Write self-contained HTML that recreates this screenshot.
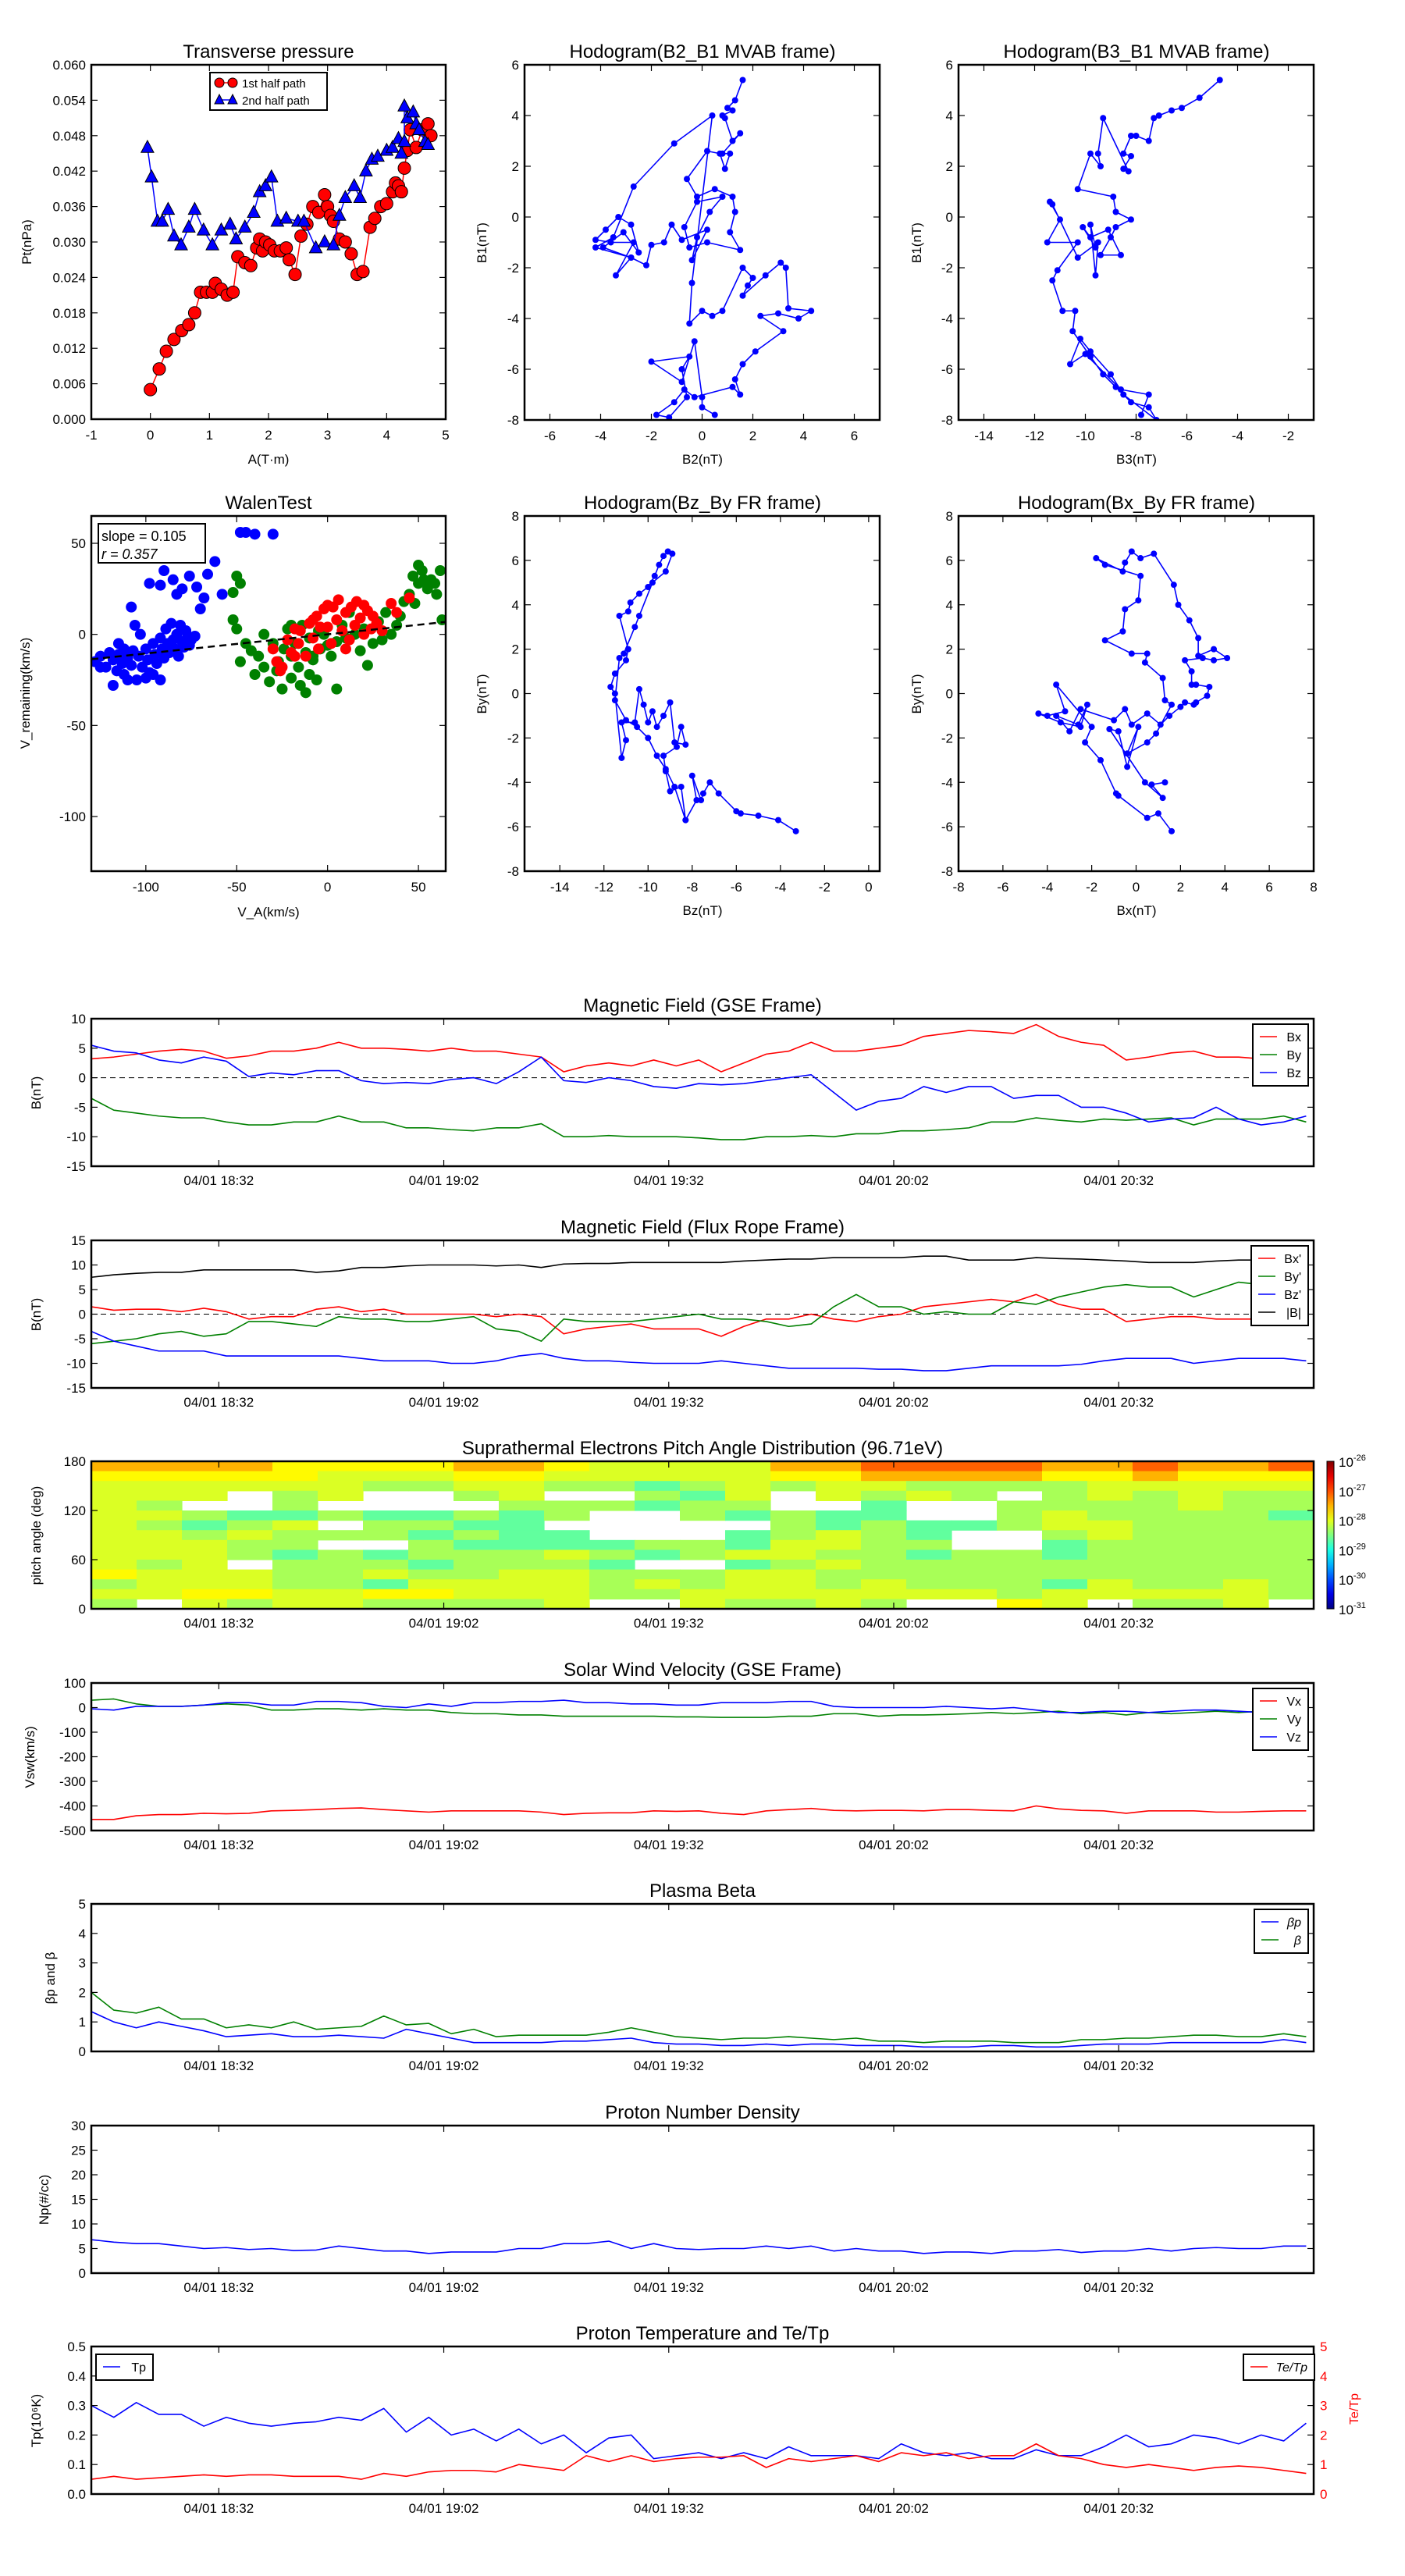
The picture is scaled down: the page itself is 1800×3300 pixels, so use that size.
<!DOCTYPE html>
<html><head><meta charset="utf-8">
<style>
html,body{margin:0;padding:0;background:#fff;}
svg{display:block;font-family:"Liberation Sans",sans-serif;}
</style></head>
<body>
<svg id="fig" width="1800" height="3300" viewBox="0 0 1800 3300" xmlns="http://www.w3.org/2000/svg">
<rect x="0" y="0" width="1800" height="3300" fill="#fff"/>
<defs id="defs"></defs>
</svg>
<script>
// ---------------- DATA ----------------
const tpA1=[0.0,0.15,0.27,0.4,0.53,0.65,0.75,0.85,0.95,1.05,1.1,1.2,1.3,1.4,1.48,1.6,1.7,1.8,1.85,1.9,1.95,2.02,2.1,2.2,2.3,2.35,2.45,2.55,2.65,2.75,2.85,2.95,3.0,3.05,3.1,3.2,3.3,3.4,3.5,3.6,3.72,3.8,3.9,4.0,4.1,4.15,4.2,4.25,4.3,4.35,4.4,4.5,4.6,4.7,4.75];
const tpP1=[0.005,0.0085,0.0115,0.0135,0.015,0.016,0.018,0.0215,0.0215,0.0215,0.023,0.022,0.021,0.0215,0.0275,0.0265,0.026,0.029,0.0305,0.0285,0.030,0.0295,0.0285,0.0285,0.029,0.027,0.0245,0.031,0.033,0.036,0.035,0.038,0.036,0.0345,0.0335,0.0305,0.030,0.028,0.0245,0.025,0.0325,0.034,0.036,0.0365,0.0385,0.040,0.0395,0.0385,0.0425,0.0455,0.049,0.046,0.049,0.050,0.048];
const tpA2=[-0.05,0.02,0.12,0.2,0.3,0.4,0.52,0.65,0.75,0.9,1.05,1.2,1.35,1.45,1.6,1.75,1.85,1.95,2.05,2.15,2.3,2.5,2.6,2.8,2.95,3.1,3.2,3.3,3.45,3.55,3.65,3.75,3.85,4.0,4.1,4.2,4.25,4.3,4.3,4.35,4.45,4.5,4.55,4.65,4.7];
const tpP2=[0.046,0.041,0.0335,0.0335,0.0355,0.031,0.0295,0.0325,0.0355,0.032,0.0295,0.032,0.033,0.0305,0.0325,0.035,0.0385,0.0395,0.041,0.0335,0.034,0.0335,0.0335,0.029,0.030,0.0295,0.0345,0.0375,0.0395,0.0375,0.042,0.044,0.0445,0.0455,0.046,0.0475,0.045,0.047,0.053,0.051,0.052,0.050,0.049,0.047,0.0465];

const h1B2=[1.6,1.3,1.0,1.2,0.8,0.9,1.2,1.5,0.8,1.1,0.9,0.7,0.2,-0.6,-0.2,0.5,1.2,1.3,1.1,1.5,0.2,-0.5,-0.7,-0.2,0.8,0.3,-0.2,-0.4,0.2,-0.8,-1.2,-1.5,-2.0,-2.2,-2.8,-3.4,-2.7,-3.6,-4.2,-3.8,-3.3,-2.8,-2.5,-3.1,-3.9,-2.8,-4.2,-3.5,-2.7,-1.1,0.4,-0.4,-0.5,0.0,0.4,0.8,1.6,2.0,1.8,1.6,2.5,3.1,3.3,3.4,4.3,3.8,3.0,2.3,3.2,2.1,1.6,1.3,1.5,1.2,-0.3,-0.7,-1.1,-1.8,-1.3,-0.6,-0.8,-0.5,-2.0,-0.8,-0.3,0.0,0.0,0.5];
const h1B1=[5.4,4.6,4.3,4.2,4.0,3.9,3.0,3.3,2.5,2.5,1.9,2.5,2.6,1.5,0.8,1.1,0.8,0.2,-0.6,-1.3,-1.0,-1.2,-0.4,0.6,0.8,0.2,-0.8,-1.7,-0.5,-0.9,-0.3,-1.0,-1.1,-1.9,-1.6,-2.3,-1.0,-1.0,-0.9,-0.5,0.0,-0.3,-1.4,-0.6,-1.2,-1.6,-1.2,-0.8,1.2,2.9,4.0,-2.6,-4.2,-3.7,-3.9,-3.7,-2.0,-2.4,-2.7,-3.1,-2.3,-1.8,-2.0,-3.6,-3.7,-4.0,-3.8,-3.9,-4.5,-5.3,-5.8,-6.4,-7.0,-6.7,-7.1,-6.8,-7.3,-7.8,-7.9,-7.1,-6.0,-5.5,-5.7,-6.5,-4.9,-7.1,-7.5,-7.8];

const h2B3=[-4.7,-5.5,-6.2,-6.6,-7.1,-7.3,-7.5,-8.0,-8.2,-8.5,-8.2,-8.5,-8.3,-9.3,-9.5,-9.4,-9.8,-10.3,-8.9,-8.8,-8.2,-8.8,-9.0,-9.4,-8.6,-9.1,-9.8,-10.1,-9.6,-9.8,-9.6,-9.5,-10.3,-11.3,-11.4,-11.0,-11.5,-10.3,-11.1,-11.3,-10.9,-10.4,-10.5,-9.8,-9.3,-8.8,-8.2,-7.5,-7.2,-8.5,-9.0,-9.8,-10.2,-10.6,-10.0,-8.6,-7.5,-7.8];
const h2B1=[5.4,4.7,4.3,4.2,4.0,3.9,3.0,3.2,3.2,2.5,2.4,1.9,1.8,3.9,2.5,2.0,2.5,1.1,0.8,0.2,-0.1,-0.4,-0.8,-1.5,-1.5,-0.5,-0.8,-0.4,-1.2,-0.3,-2.3,-1.0,-1.6,0.5,0.6,-0.1,-1.0,-1.0,-2.1,-2.5,-3.7,-3.7,-4.5,-5.5,-6.2,-6.7,-7.3,-7.5,-8.0,-7.0,-6.2,-5.3,-4.8,-5.8,-5.4,-6.8,-7.0,-7.8];

const h3Bz=[-3.3,-4.1,-5.0,-5.8,-6.0,-6.8,-7.2,-7.5,-7.6,-8.0,-7.8,-8.3,-8.5,-9.0,-9.2,-9.3,-8.7,-8.5,-8.3,-8.8,-9.0,-9.3,-9.6,-9.8,-10.0,-10.2,-10.4,-10.6,-11.2,-11.0,-11.2,-11.5,-11.7,-11.5,-11.0,-10.9,-11.3,-10.9,-10.8,-10.4,-10.0,-9.7,-9.5,-9.3,-9.1,-8.9,-9.2,-9.8,-10.4,-10.6,-11.1,-11.3,-11.5,-11.0,-10.5,-10.0,-9.6,-9.2,-8.8,-8.3];
const h3By=[-6.2,-5.7,-5.5,-5.4,-5.3,-4.5,-4.0,-4.5,-4.8,-3.7,-4.8,-5.7,-4.2,-4.4,-3.5,-2.8,-2.4,-1.5,-2.3,-2.2,-0.4,-1.0,-1.5,-0.8,-1.3,-0.5,0.2,-1.3,-1.3,-2.1,-2.9,0.0,0.3,0.9,1.5,2.0,3.5,3.7,4.1,4.5,4.8,5.3,5.8,6.2,6.4,6.3,5.5,5.0,3.5,3.0,1.8,1.6,-0.3,-1.2,-1.5,-2.0,-2.8,-3.4,-4.2,-5.7];

const h4Bx=[1.6,1.0,0.5,-0.8,-0.9,-1.6,-2.3,-2.0,-3.6,-3.2,-4.0,-4.4,-3.4,-2.5,-2.2,-2.6,-3.6,-3.0,-2.5,-1.0,-0.5,-0.2,0.5,1.1,1.5,2.0,2.2,2.6,2.7,3.2,3.3,2.7,2.5,2.5,2.2,3.0,3.5,4.1,3.5,2.8,2.8,2.4,1.9,1.7,0.8,0.2,-0.2,-0.5,-0.6,-1.8,-1.4,0.2,0.1,-0.5,-0.6,-1.4,-0.2,0.5,0.4,1.2,1.3,1.6,0.9,0.5,-0.4,0.1,-0.4,-0.8,-1.2,0.4,1.2,0.7,1.3];
const h4By=[-6.2,-5.4,-5.6,-4.6,-4.5,-3.0,-2.2,-1.5,0.4,-0.8,-1.0,-0.9,-1.3,-1.5,-0.5,-1.4,-1.0,-1.7,-0.7,-1.2,-0.7,-1.4,-0.9,-1.4,-1.0,-0.6,-0.4,-0.5,-0.4,-0.1,0.3,0.4,0.4,1.0,1.5,1.6,1.5,1.6,2.0,1.7,2.5,3.3,4.0,4.9,6.3,6.1,6.4,5.9,5.5,6.1,5.8,5.3,4.2,3.8,2.8,2.4,1.8,1.8,1.4,0.7,-0.3,-0.5,-1.8,-2.2,-2.7,-1.5,-3.3,-1.7,-1.6,-4.0,-4.7,-4.1,-4.0];

const walenBlueX=[-128,-125,-122,-120,-118,-116,-115,-113,-112,-110,-108,-107,-105,-104,-102,-100,-99,-98,-96,-95,-94,-92,-91,-90,-89,-88,-87,-86,-85,-84,-83,-82,-81,-80,-79,-78,-77,-76,-75,-73,-100,-110,-118,-92,-96,-106,-108,-103,-98,-92,-90,-85,-83,-80,-76,-72,-68,-66,-62,-58,-48,-45,-40,-30,-70,-115,-125,-112];
const walenBlueY=[-15,-12,-18,-10,-14,-20,-11,-16,-22,-13,-17,-9,-25,-12,-18,-8,-14,-21,-5,-11,-16,-2,-8,-13,3,-5,-10,6,-3,-8,0,-12,5,-4,-7,2,-1,-6,-3,-1,-24,-25,-28,-25,-22,5,15,0,28,27,35,30,22,25,32,26,20,33,40,22,56,56,55,55,14,-5,-18,-8];
const walenGreenX=[-52,-50,-48,-52,-50,-45,-48,-40,-42,-38,-35,-35,-32,-30,-28,-27,-25,-24,-22,-20,-20,-18,-16,-15,-14,-12,-10,-10,-8,-6,-5,-4,-2,0,2,5,8,10,12,15,18,20,22,25,28,30,32,35,38,40,42,45,48,50,52,53,55,57,59,60,62,63,50,47,-12,5,-20,-8];
const walenGreenY=[23,32,28,8,3,-5,-15,-22,-9,-12,0,-18,-26,-5,-20,-15,-30,-8,3,-12,-24,-5,-18,-28,5,-10,-2,-22,-14,-25,2,-8,0,-6,-12,-4,5,-2,12,0,-9,3,-17,-5,7,-3,12,0,5,10,18,22,17,28,35,30,25,30,28,22,35,8,38,32,-32,-30,5,-12];
const walenRedX=[-30,-28,-25,-22,-20,-18,-16,-15,-12,-10,-8,-6,-5,-4,-2,0,2,3,5,6,8,10,12,13,15,16,18,20,22,24,25,27,30,35,38,-18,-8,0,10,20,45,-26];
const walenRedY=[-8,-15,-18,-3,-10,3,-5,2,-12,6,-2,10,-8,4,14,4,-5,15,8,19,2,12,-3,15,5,18,9,0,13,3,10,6,2,17,12,-12,8,16,-8,16,20,-20];
const walenSlope=[0.105];
const walenR=[0.357];

const tStepMin=[3];
const gseBx=[3.2,3.5,4,4.5,4.8,4.5,3.3,3.7,4.5,4.5,5,6,5,5,4.8,4.5,5,4.5,4.5,4,3.5,1,2,2.5,2,3,2,3,1,2.5,4,4.5,6,4.5,4.5,5,5.5,7,7.5,8,7.8,7.5,9,7,6,5.5,3,3.5,4.2,4.5,3.5,3.5,3.2,3.8,4.5];
const gseBy=[-3.5,-5.5,-6,-6.5,-6.8,-6.8,-7.5,-8,-8,-7.5,-7.5,-6.5,-7.5,-7.5,-8.5,-8.5,-8.8,-9,-8.5,-8.5,-7.8,-10,-10,-9.8,-10,-10,-10,-10.2,-10.5,-10.5,-10,-10,-9.8,-10,-9.5,-9.5,-9,-9,-8.8,-8.5,-7.5,-7.5,-6.8,-7.2,-7.5,-7,-7.2,-7,-6.8,-8,-7,-7,-7,-6.5,-7.5];
const gseBz=[5.5,4.5,4.2,3,2.5,3.5,2.8,0.2,0.8,0.5,1.2,1.2,-0.5,-1,-0.8,-1,-0.3,0,-1,1,3.5,-0.5,-0.8,0,-0.5,-1.5,-1.8,-1,-1.2,-1,-0.5,0,0.5,-2.5,-5.5,-4,-3.5,-1.5,-2.5,-1.5,-1.5,-3.5,-3,-3,-5,-5,-6,-7.5,-7,-6.8,-5,-7,-8,-7.5,-6.5];
const frBx=[1.5,0.8,1,1,0.5,1.2,0.5,-1,-0.5,-0.5,1,1.5,0.5,1,0,0,0,0,-0.5,0,-0.5,-4,-3,-2.5,-2,-3,-3,-3,-4.5,-2.5,-1,-1,0,-1,-1.5,-0.5,0,1.5,2,2.5,3,2.5,4,2,1,1,-1.5,-1,-0.5,-0.5,-1,-1,-1,-1,-1];
const frBy=[-6,-5.5,-5,-4,-3.5,-4.5,-4,-1.5,-1.5,-2,-2.5,-0.5,-1,-1,-1.5,-1.5,-1,-0.5,-3,-3.5,-5.5,-1,-1.5,-1.5,-1.5,-1,-0.5,0,-1,-1,-1.5,-2.5,-2,1.5,4,1.5,1.5,0,0.5,0,0,2.5,2,3.5,4.5,5.5,6,5.5,5.5,3.5,5,6.5,6,5,4.5];
const frBz=[-3.5,-5.5,-6.5,-7.5,-7.5,-7.5,-8.5,-8.5,-8.5,-8.5,-8.5,-8.5,-9,-9.5,-9.5,-9.5,-10,-10,-9.5,-8.5,-8,-9,-9.5,-9.5,-9.8,-10,-10,-10,-9.5,-10,-10.5,-11,-11,-11,-11,-11.2,-11.2,-11.5,-11.5,-11,-10.5,-10.5,-10.5,-10.5,-10.2,-9.5,-9,-9,-9,-10,-9.5,-9,-9,-9,-9.5];
const frBt=[7.5,8,8.3,8.5,8.5,9,9,9,9,9,8.5,8.8,9.5,9.5,9.8,10,10,10,9.8,10,9.5,10.2,10.3,10.3,10.5,10.5,10.5,10.5,10.5,10.8,11,11.2,11.2,11.5,11.5,11.5,11.5,11.8,11.8,11,11,11,11.5,11.3,11.2,11,10.8,10.5,10.5,10.5,10.8,11,11,11,11];
const vswVx=[-455,-455,-440,-435,-435,-430,-432,-430,-420,-418,-415,-410,-408,-415,-420,-425,-420,-420,-420,-420,-425,-435,-430,-428,-428,-420,-422,-420,-430,-435,-420,-415,-410,-418,-420,-418,-418,-420,-415,-415,-418,-420,-400,-412,-418,-420,-430,-420,-420,-420,-425,-425,-422,-420,-420];
const vswVy=[30,35,15,5,5,10,15,10,-10,-10,-5,-5,-10,-5,-10,-10,-20,-25,-25,-30,-30,-35,-35,-35,-35,-35,-38,-38,-40,-40,-40,-35,-35,-25,-25,-35,-30,-30,-28,-25,-20,-25,-20,-15,-25,-20,-30,-20,-25,-20,-15,-20,-15,-15,-20];
const vswVz=[-5,-10,5,5,5,10,20,20,10,10,25,25,20,5,0,15,5,20,20,25,25,30,20,20,15,15,10,10,20,20,20,25,25,5,0,0,0,0,5,0,-5,0,-10,-20,-20,-15,-15,-20,-15,-10,-10,-15,-20,-15,-15];
const betaP=[1.35,1.0,0.8,1.0,0.85,0.7,0.5,0.55,0.6,0.5,0.5,0.55,0.5,0.45,0.75,0.6,0.45,0.3,0.3,0.3,0.3,0.35,0.35,0.4,0.45,0.3,0.25,0.25,0.2,0.2,0.25,0.2,0.25,0.25,0.2,0.2,0.2,0.15,0.15,0.15,0.2,0.2,0.15,0.15,0.2,0.25,0.25,0.25,0.3,0.3,0.3,0.3,0.3,0.4,0.3];
const betaT=[2.0,1.4,1.3,1.5,1.1,1.1,0.8,0.9,0.8,1.0,0.75,0.8,0.85,1.2,0.9,0.95,0.6,0.75,0.5,0.55,0.55,0.55,0.55,0.65,0.8,0.65,0.5,0.45,0.4,0.45,0.45,0.5,0.45,0.4,0.45,0.35,0.35,0.3,0.35,0.35,0.35,0.3,0.3,0.3,0.4,0.4,0.45,0.45,0.5,0.55,0.55,0.5,0.5,0.6,0.5];
const npDens=[6.8,6.3,6,6,5.5,5,5.2,4.8,5,4.6,4.7,5.5,5,4.5,4.5,4,4.3,4.3,4.3,5,5,6,6,6.5,5,6,5,4.8,5,5,5.5,5,5.5,4.5,5,4.5,4.5,4,4.3,4.3,4,4.5,4.5,4.8,4.2,4.5,4.5,5,4.5,5,5.2,5,5,5.5,5.5];
const tpTemp=[0.30,0.26,0.31,0.27,0.27,0.23,0.26,0.24,0.23,0.24,0.245,0.26,0.25,0.29,0.21,0.26,0.2,0.22,0.18,0.22,0.17,0.2,0.14,0.19,0.2,0.12,0.13,0.14,0.12,0.14,0.12,0.16,0.13,0.13,0.13,0.12,0.17,0.14,0.13,0.14,0.12,0.12,0.15,0.13,0.13,0.16,0.2,0.16,0.17,0.2,0.19,0.17,0.2,0.18,0.24];
const teTp=[0.5,0.6,0.5,0.55,0.6,0.65,0.6,0.65,0.65,0.6,0.6,0.6,0.5,0.7,0.6,0.75,0.8,0.8,0.75,1.0,0.9,0.8,1.3,1.1,1.3,1.1,1.2,1.25,1.25,1.3,0.9,1.2,1.1,1.2,1.3,1.1,1.4,1.3,1.4,1.2,1.3,1.3,1.7,1.3,1.2,1.0,0.9,1.0,0.9,0.8,0.9,0.95,0.9,0.8,0.7];

const A=-27.1,B=-27.5,C=-27.85,D=-28.05,E=-28.3,F=-28.65,N=null;
const pad_r0=[B,B,B,B,C,C,C,C,B,B,C,D,D,D,D,B,B,A,A,A,A,B,B,A,B,B,A];
const pad_r1=[C,C,C,C,C,D,D,D,C,C,D,D,D,D,D,C,C,B,B,B,B,C,C,B,C,C,C];
const pad_r2=[D,D,D,D,D,D,E,E,D,D,E,E,F,E,D,E,D,D,E,E,E,E,D,D,D,D,D];
const pad_r3=[D,D,D,N,E,D,N,N,E,D,N,N,E,F,D,N,D,E,D,E,N,E,D,E,D,E,E];
const pad_r4=[D,E,N,N,E,N,N,N,N,E,E,E,F,E,E,N,N,F,N,N,E,E,E,E,D,E,E];
const pad_r5=[D,D,E,F,F,E,F,F,E,F,E,N,N,E,F,E,F,F,N,N,E,D,E,E,E,E,F];
const pad_r6=[D,E,F,E,D,N,E,E,F,F,N,N,N,N,N,E,F,E,F,F,E,D,D,E,E,E,E];
const pad_r7=[D,D,E,D,E,E,E,F,E,F,F,N,N,N,F,E,D,E,F,N,N,E,D,E,E,E,E];
const pad_r8=[D,D,D,E,E,N,N,E,F,F,F,F,E,E,F,D,D,E,E,N,N,F,E,E,E,E,E];
const pad_r9=[D,D,D,E,F,E,F,E,E,E,D,E,F,E,D,D,E,E,F,E,E,F,E,E,E,E,E];
const pad_r10=[D,E,D,N,E,E,E,F,E,E,E,F,N,N,F,E,D,E,E,E,E,E,E,E,E,E,E];
const pad_r11=[C,D,D,D,E,E,D,E,E,D,D,E,E,E,D,D,E,E,E,E,E,E,E,E,E,E,E];
const pad_r12=[E,D,D,D,E,E,F,D,D,D,D,E,D,E,D,D,E,D,E,E,E,F,D,E,E,D,E];
const pad_r13=[D,D,C,C,D,D,C,C,D,D,D,E,E,D,D,D,D,D,D,D,E,D,D,D,D,D,E];
const pad_r14=[E,N,D,E,D,D,E,E,E,E,D,N,N,D,E,E,D,E,N,N,C,D,N,E,E,D,N];
const padRows=[pad_r0,pad_r1,pad_r2,pad_r3,pad_r4,pad_r5,pad_r6,pad_r7,pad_r8,pad_r9,pad_r10,pad_r11,pad_r12,pad_r13,pad_r14];

const timeTickMin=[17,47,77,107,137];
const timeTickLabels=['04/01 18:32','04/01 19:02','04/01 19:32','04/01 20:02','04/01 20:32'];

// ---------------- DRAWING ----------------
const NS='http://www.w3.org/2000/svg';
const svg=document.getElementById('fig');
const defs=document.getElementById('defs');
let clipN=0;
function mk(tag,parent,name){
  const e=document.createElementNS(NS,tag);
  
  
  parent.appendChild(e);
  return e;
}
function at(e,o){for(const k in o)e.setAttribute(k,o[k]);return e;}
function txt(parent,name,x,y,s,size,anchor,extra){
  const t=mk('text',parent,name);
  at(t,{x:x,y:y,'font-size':size,'text-anchor':anchor||'middle',fill:'#000'});
  if(extra)at(t,extra);
  t.textContent=s;
  return t;
}
function axes(name,x0,y0,w,h,xr,yr){
  const g=mk('g',svg,name);
  const sx=v=>x0+(v-xr[0])/(xr[1]-xr[0])*w;
  const sy=v=>y0+h-(v-yr[0])/(yr[1]-yr[0])*h;
  const id='clip'+(clipN++);
  const cp=document.createElementNS(NS,'clipPath');cp.setAttribute('id',id);
  const r=document.createElementNS(NS,'rect');at(r,{x:x0,y:y0,width:w,height:h});cp.appendChild(r);defs.appendChild(cp);
  const dg=mk('g',g,name+'-data');dg.setAttribute('clip-path','url(#'+id+')');
  return {g,dg,sx,sy,x0,y0,w,h};
}
function frame(a){
  const r=mk('rect',a.g,'plot-frame');
  at(r,{x:a.x0,y:a.y0,width:a.w,height:a.h,fill:'none',stroke:'#000','stroke-width':2.5});
}
function xticks(a,vals,labels,dy){
  vals.forEach((v,i)=>{
    const x=a.sx(v);
    const l1=mk('line',a.g,'x-tick');at(l1,{x1:x,x2:x,y1:a.y0+a.h,y2:a.y0+a.h-8,stroke:'#000','stroke-width':1.2});
    const l2=mk('line',a.g,'x-tick-top');at(l2,{x1:x,x2:x,y1:a.y0,y2:a.y0+8,stroke:'#000','stroke-width':1.2});
    txt(a.g,'x-tick-label',x,a.y0+a.h+(dy||26),labels[i],17);
  });
}
function yticks(a,vals,labels,color,right){
  vals.forEach((v,i)=>{
    const y=a.sy(v);
    const l1=mk('line',a.g,'y-tick');at(l1,{x1:a.x0,x2:a.x0+8,y1:y,y2:y,stroke:'#000','stroke-width':1.2});
    const l2=mk('line',a.g,'y-tick-right');at(l2,{x1:a.x0+a.w,x2:a.x0+a.w-8,y1:y,y2:y,stroke:'#000','stroke-width':1.2});
    if(labels){
      if(right) txt(a.g,'y-tick-label-right',a.x0+a.w+8,y+6,labels[i],17,'start',{fill:color||'#000'});
      else txt(a.g,'y-tick-label',a.x0-7,y+6,labels[i],17,'end',{fill:color||'#000'});
    }
  });
}
function poly(a,xs,ys,color,w,name){
  const p=mk('polyline',a.dg,name);
  at(p,{points:xs.map((x,i)=>a.sx(x)+','+a.sy(ys[i])).join(' '),fill:'none',stroke:color,'stroke-width':w||1.6,'stroke-linejoin':'round'});
  return p;
}
function dots(a,xs,ys,color,r,name,stroke){
  xs.forEach((x,i)=>{
    const c=mk('circle',a.dg,name);
    at(c,{cx:a.sx(x),cy:a.sy(ys[i]),r:r,fill:color});
    if(stroke)at(c,{stroke:stroke,'stroke-width':1});
  });
}
function tris(a,xs,ys,color,s,name){
  xs.forEach((x,i)=>{
    const cx=a.sx(x),cy=a.sy(ys[i]);
    const p=mk('polygon',a.dg,name);
    at(p,{points:(cx)+','+(cy-s)+' '+(cx-s*0.9)+','+(cy+s*0.7)+' '+(cx+s*0.9)+','+(cy+s*0.7),fill:color,stroke:'#000','stroke-width':1});
  });
}
function ylabel(parent,name,x,y,s,size,color){
  return txt(parent,name,x,y,s,size||16,'middle',{transform:'rotate(-90 '+x+' '+y+')',fill:color||'#000'});
}
function range(a,b,s){const r=[];for(let v=a;v<=b+1e-9;v+=s)r.push(+v.toFixed(6));return r;}

(function(){
  const a=axes('transverse-pressure-plot',117,83,454,454,[-1,5],[0,0.06]);
  poly(a,tpA1,tpP1,'#f00',1.5,'first-half-line');
  dots(a,tpA1,tpP1,'#f00',8,'first-half-marker','#000');
  poly(a,tpA2,tpP2,'#00f',1.5,'second-half-line');
  tris(a,tpA2,tpP2,'#00f',9,'second-half-marker');
  frame(a);
  const xv=range(-1,5,1);xticks(a,xv,xv.map(String));
  const yv=range(0,0.06,0.006);yticks(a,yv,yv.map(v=>v.toFixed(3)));
  txt(a.g,'chart-title',344,74,'Transverse pressure',24);
  txt(a.g,'x-axis-title',344,594,'A(T·m)',17);
  ylabel(a.g,'y-axis-title',40,310,'Pt(nPa)',17);
  const lg=mk('g',a.g,'legend');
  const r=mk('rect',lg,'legend-box');at(r,{x:269,y:93,width:150,height:48,fill:'#fff',stroke:'#000','stroke-width':2});
  const l1=mk('line',lg,'legend-line-1st');at(l1,{x1:278,x2:300,y1:106,y2:106,stroke:'#f00','stroke-width':1.5});
  const c1=mk('circle',lg,'legend-marker-1st');at(c1,{cx:281,cy:106,r:6,fill:'#f00',stroke:'#000'});
  const c2=mk('circle',lg,'legend-marker-1st');at(c2,{cx:298,cy:106,r:6,fill:'#f00',stroke:'#000'});
  txt(lg,'legend-label-1st',310,112,'1st half path',15,'start');
  const l2=mk('line',lg,'legend-line-2nd');at(l2,{x1:278,x2:300,y1:128,y2:128,stroke:'#00f','stroke-width':1.5});
  [281,298].forEach(cx=>{const p=mk('polygon',lg,'legend-marker-2nd');at(p,{points:cx+','+(128-7)+' '+(cx-6)+','+(128+5)+' '+(cx+6)+','+(128+5),fill:'#00f',stroke:'#000'});});
  txt(lg,'legend-label-2nd',310,134,'2nd half path',15,'start');
})();

function hodo(name,title,x0,y0,xr,yr,xs,ys,xtv,ytv,xl,yl,ylx){
  const a=axes(name,x0,y0,455,455,xr,yr);
  poly(a,xs,ys,'#00f',1.6,'hodogram-path');
  dots(a,xs,ys,'#00f',4,'hodogram-point');
  frame(a);
  xticks(a,xtv,xtv.map(String));
  yticks(a,ytv,ytv.map(String));
  txt(a.g,'chart-title',x0+228,y0-9,title,24);
  txt(a.g,'x-axis-title',x0+228,y0+511,xl,17);
  ylabel(a.g,'y-axis-title',ylx,y0+228,yl,17);
}
hodo('hodogram-b2-b1','Hodogram(B2_B1 MVAB frame)',672,83,[-7,7],[-8,6],h1B2,h1B1,range(-6,6,2),range(-8,6,2),'B2(nT)','B1(nT)',623);
hodo('hodogram-b3-b1','Hodogram(B3_B1 MVAB frame)',1228,83,[-15,-1],[-8,6],h2B3,h2B1,range(-14,-2,2),range(-8,6,2),'B3(nT)','B1(nT)',1180);
hodo('hodogram-bz-by','Hodogram(Bz_By FR frame)',672,661,[-15.6,0.5],[-8,8],h3Bz,h3By,range(-14,0,2),range(-8,8,2),'Bz(nT)','By(nT)',623);
hodo('hodogram-bx-by','Hodogram(Bx_By FR frame)',1228,661,[-8,8],[-8,8],h4Bx,h4By,range(-8,8,2),range(-8,8,2),'Bx(nT)','By(nT)',1180);

(function(){
  const a=axes('walen-test-plot',117,661,454,455,[-130,65],[-130,65]);
  dots(a,walenBlueX,walenBlueY,'#00f',7,'walen-point-blue');
  dots(a,walenGreenX,walenGreenY,'#008000',7,'walen-point-green');
  dots(a,walenRedX,walenRedY,'#f00',7,'walen-point-red');
  const fl=mk('line',a.dg,'walen-fit-line');
  at(fl,{x1:a.sx(-130),y1:a.sy(-130*walenSlope[0]),x2:a.sx(65),y2:a.sy(65*walenSlope[0]),stroke:'#000','stroke-width':2.5,'stroke-dasharray':'9,6'});
  frame(a);
  const xv=[-100,-50,0,50];xticks(a,xv,xv.map(String));
  const yv=[-100,-50,0,50];yticks(a,yv,yv.map(String));
  txt(a.g,'chart-title',344,652,'WalenTest',24);
  txt(a.g,'x-axis-title',344,1174,'V_A(km/s)',17);
  ylabel(a.g,'y-axis-title',38,888,'V_remaining(km/s)',17);
  const b=mk('rect',a.g,'fit-stats-box');at(b,{x:126,y:671,width:137,height:50,fill:'#fff',stroke:'#000','stroke-width':2});
  txt(a.g,'slope-text',130,693,'slope = '+walenSlope[0],18,'start');
  txt(a.g,'r-text',130,716,'r = '+walenR[0],18,'start',{'font-style':'italic'});
})();

const TX0=117,TW=1566,TMAX=163;
function tsAxes(name,y0,yr){return axes(name,TX0,y0,TW,189,[0,TMAX],yr);}
function tvals(arr){return arr.map((v,i)=>i*tStepMin[0]);}
function tsFinish(a,title,yv,ylab,ylabx){
  frame(a);
  xticks(a,timeTickMin,timeTickLabels,24);
  yticks(a,yv,yv.map(v=>String(v)));
  txt(a.g,'chart-title',900,a.y0-9,title,24);
  ylabel(a.g,'y-axis-title',ylabx||52,a.y0+95,ylab,17);
}
function legend(a,name,x,y,w,items){
  const g=mk('g',a.g,name);
  const r=mk('rect',g,'legend-box');at(r,{x:x,y:y,width:w,height:items.length*23+10,fill:'#fff',stroke:'#000','stroke-width':2});
  items.forEach((it,i)=>{
    const yy=y+16+i*23;
    const l=mk('line',g,'legend-line');at(l,{x1:x+9,x2:x+31,y1:yy,y2:yy,stroke:it[1],'stroke-width':1.6});
    txt(g,'legend-label',x+w-9,yy+6,it[0],16,'end',it[2]?{'font-style':'italic'}:null);
  });
}
function zeroLine(a){
  const l=mk('line',a.dg,'zero-line');at(l,{x1:a.x0,x2:a.x0+a.w,y1:a.sy(0),y2:a.sy(0),stroke:'#000','stroke-width':1,'stroke-dasharray':'7,5'});
}

(function(){
  const a=tsAxes('magnetic-field-gse-plot',1305,[-15,10]);
  zeroLine(a);
  poly(a,tvals(gseBx),gseBx,'#f00',1.6,'bx-line');
  poly(a,tvals(gseBy),gseBy,'#008000',1.6,'by-line');
  poly(a,tvals(gseBz),gseBz,'#00f',1.6,'bz-line');
  tsFinish(a,'Magnetic Field (GSE Frame)',range(-15,10,5),'B(nT)');
  legend(a,'legend',1605,1312,71,[['Bx','#f00'],['By','#008000'],['Bz','#00f']]);
})();
(function(){
  const a=tsAxes('magnetic-field-flux-rope-plot',1589,[-15,15]);
  zeroLine(a);
  poly(a,tvals(frBx),frBx,'#f00',1.6,'bx-prime-line');
  poly(a,tvals(frBy),frBy,'#008000',1.6,'by-prime-line');
  poly(a,tvals(frBz),frBz,'#00f',1.6,'bz-prime-line');
  poly(a,tvals(frBt),frBt,'#000',1.6,'b-magnitude-line');
  tsFinish(a,'Magnetic Field (Flux Rope Frame)',range(-15,15,5),'B(nT)');
  legend(a,'legend',1603,1596,73,[["Bx'",'#f00'],["By'",'#008000'],["Bz'",'#00f'],['|B|','#000']]);
})();

function jet(t){
  t=Math.max(0,Math.min(1,t));
  const c=v=>Math.round(255*Math.max(0,Math.min(1,v)));
  return 'rgb('+c(1.5-Math.abs(4*t-3))+','+c(1.5-Math.abs(4*t-2))+','+c(1.5-Math.abs(4*t-1))+')';
}
(function(){
  const a=tsAxes('pitch-angle-distribution-plot',1872,[0,180]);
  const nC=padRows[0].length,nR=padRows.length;
  const cw=TMAX/nC,rh=180/nR;
  padRows.forEach((row,ri)=>{
    row.forEach((v,ci)=>{
      if(v===null)return;
      const x1=a.sx(ci*cw),x2=a.sx((ci+1)*cw);
      const yTop=a.sy(180-ri*rh),yBot=a.sy(180-(ri+1)*rh);
      const r=mk('rect',a.dg,'pad-cell');
      at(r,{x:x1,y:yTop,width:x2-x1+0.6,height:yBot-yTop+0.6,fill:jet((v+31)/5)});
    });
  });
  tsFinish(a,'Suprathermal Electrons Pitch Angle Distribution (96.71eV)',[0,60,120,180],'pitch angle (deg)');
  const cb=mk('g',a.g,'colorbar');
  const lg=document.createElementNS(NS,'linearGradient');at(lg,{id:'jetgrad',x1:0,y1:1,x2:0,y2:0});
  for(let i=0;i<=10;i++){const s=document.createElementNS(NS,'stop');at(s,{offset:i/10,'stop-color':jet(i/10)});lg.appendChild(s);}
  defs.appendChild(lg);
  const cr=mk('rect',cb,'colorbar-gradient');at(cr,{x:1700,y:1872,width:9,height:189,fill:'url(#jetgrad)',stroke:'#000','stroke-width':1});
  [-26,-27,-28,-29,-30,-31].forEach((e,i)=>{
    const y=1872+i*189/5;
    const t=txt(cb,'colorbar-tick-label',1715,y+7,'10',17,'start');
    const sp=document.createElementNS(NS,'tspan');at(sp,{dy:-8,'font-size':11});sp.textContent=String(e);t.appendChild(sp);
  });
})();
(function(){
  const a=tsAxes('solar-wind-velocity-plot',2156,[-500,100]);
  poly(a,tvals(vswVx),vswVx,'#f00',1.6,'vx-line');
  poly(a,tvals(vswVy),vswVy,'#008000',1.6,'vy-line');
  poly(a,tvals(vswVz),vswVz,'#00f',1.6,'vz-line');
  tsFinish(a,'Solar Wind Velocity (GSE Frame)',range(-500,100,100),'Vsw(km/s)',44);
  legend(a,'legend',1605,2163,71,[['Vx','#f00'],['Vy','#008000'],['Vz','#00f']]);
})();
(function(){
  const a=tsAxes('plasma-beta-plot',2439,[0,5]);
  poly(a,tvals(betaP),betaP,'#00f',1.6,'beta-p-line');
  poly(a,tvals(betaT),betaT,'#008000',1.6,'beta-line');
  tsFinish(a,'Plasma Beta',range(0,5,1),'βp and β',70);
  legend(a,'legend',1607,2446,69,[['βp','#00f',1],['β','#008000',1]]);
})();
(function(){
  const a=tsAxes('proton-density-plot',2723,[0,30]);
  poly(a,tvals(npDens),npDens,'#00f',1.6,'density-line');
  tsFinish(a,'Proton Number Density',range(0,30,5),'Np(#/cc)',62);
})();
(function(){
  const a=tsAxes('proton-temperature-plot',3006,[0,0.5]);
  const a2={sx:a.sx,sy:v=>a.y0+a.h-v/5*a.h,dg:a.dg};
  poly(a,tvals(tpTemp),tpTemp,'#00f',1.6,'tp-line');
  poly(a2,tvals(teTp),teTp,'#f00',1.6,'te-tp-line');
  frame(a);
  xticks(a,timeTickMin,timeTickLabels,24);
  const yv=range(0,0.5,0.1);yticks(a,yv,yv.map(v=>v.toFixed(1)));
  [0,1,2,3,4,5].forEach(v=>txt(a.g,'right-y-tick-label',a.x0+a.w+8,a2.sy(v)+6,String(v),17,'start',{fill:'#f00'}));
  txt(a.g,'chart-title',900,a.y0-9,'Proton Temperature and Te/Tp',24);
  ylabel(a.g,'y-axis-title',52,a.y0+95,'Tp(10⁶K)',17);
  ylabel(a.g,'right-y-axis-title',1740,a.y0+80,'Te/Tp',16,'#f00');
  legend(a,'legend-tp',123,3016,73,[['Tp','#00f']]);
  legend(a,'legend-te-tp',1593,3016,91,[['Te/Tp','#f00',1]]);
})();
</script>
</body></html>
